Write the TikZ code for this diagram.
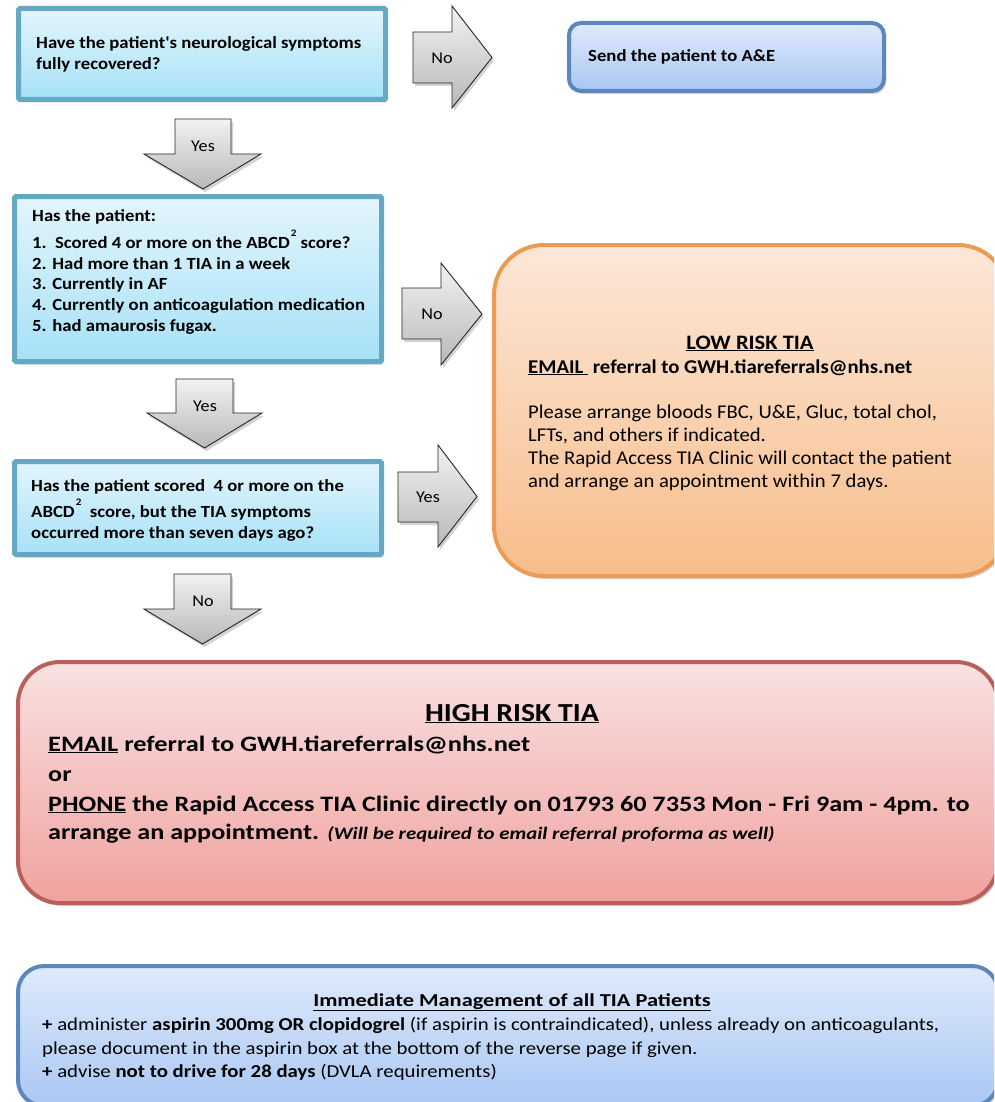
\documentclass[tikz,border=0pt]{standalone}
\usepackage{fontspec}
\setmainfont{Carlito}[Ligatures=TeXOff]
\usetikzlibrary{shadows}
\definecolor{cyanline}{HTML}{64A8C3}
\definecolor{cyantop}{HTML}{E3F5FC}
\definecolor{cyanbot}{HTML}{A6E1F7}
\definecolor{blueline}{HTML}{5B86BE}
\definecolor{bluetop}{HTML}{DFEAFB}
\definecolor{bluebot}{HTML}{A9C7F3}
\definecolor{orline}{HTML}{EC9B52}
\definecolor{ortop}{HTML}{FCE7D8}
\definecolor{orbot}{HTML}{F7BD8A}
\definecolor{redline}{HTML}{B9605B}
\definecolor{redtop}{HTML}{F9E1E1}
\definecolor{redbot}{HTML}{F0A29F}
\definecolor{arrtop}{HTML}{F2F2F2}
\definecolor{arrbot}{HTML}{B8B8B8}
\tikzset{
  shad/.style={drop shadow={opacity=0.35,shadow xshift=2pt,shadow yshift=-3pt}},
  qbox/.style={shape=rectangle,draw=cyanline,line width=5pt,top color=cyantop,bottom color=cyanbot,rounded corners=1.5pt,inner sep=0pt,shad},
  bbox/.style={shape=rectangle,draw=blueline,line width=4pt,top color=bluetop,bottom color=bluebot,inner sep=0pt,shad},
  obox/.style={shape=rectangle,draw=orline,line width=4pt,top color=ortop,bottom color=orbot,rounded corners=50pt,inner sep=0pt,shad},
  rbox/.style={shape=rectangle,draw=redline,line width=4pt,top color=redtop,bottom color=redbot,rounded corners=42pt,inner sep=0pt,shad},
  blk/.style={draw=black!85,line width=0.9pt,top color=arrtop,bottom color=arrbot,line join=miter},
  tl/.style={anchor=base west,inner sep=0pt},
  tc/.style={anchor=base,inner sep=0pt},
  lab/.style={anchor=center,inner sep=0pt,font=\fontsize{16.5}{19}\selectfont},
}
\newcommand{\sx}[2]{\scalebox{#1}[1]{#2}}
\newcommand{\sqtwo}{\hspace{1pt}\raisebox{1.45ex}{\fontsize{10}{10}\selectfont 2}}
\begin{document}
\begin{tikzpicture}[x=1pt,y=-1pt]
\useasboundingbox (0,0) rectangle (994,1102);
\clip (0,0) rectangle (994,1102);
% ---------- boxes ----------
\node[qbox,minimum width=367pt,minimum height=91pt] (q1) at (202,54) {};
\node[bbox,rounded corners=12pt,minimum width=315pt,minimum height=68pt] (ae) at (726.5,57) {};
\node[qbox,minimum width=367pt,minimum height=165pt] (q2) at (198,279) {};
\node[qbox,minimum width=367pt,minimum height=93pt] (q3) at (198,508) {};
\node[obox,minimum width=514pt,minimum height=331pt] (low) at (751,410.5) {};
\node[rbox,minimum width=980pt,minimum height=241pt] (high) at (508,782.5) {};
\node[bbox,rounded corners=26pt,minimum width=980pt,minimum height=140pt] (mgmt) at (508,1036) {};
% ---------- block arrows ----------
\path[blk,shad] (413,32) -- (452,32) -- (452,6) -- (492,57.5) -- (452,108) -- (452,83) -- (413,83) -- cycle;
\node[lab] (a1) at (442,58) {\sx{1.1}{No}};
\path[blk,shad] (175,119) -- (231,119) -- (231,154) -- (261,154) -- (203,189) -- (144,154) -- (175,154) -- cycle;
\node[lab] (a2) at (203,146) {\sx{1.1}{Yes}};
\path[blk,shad] (402,288) -- (441,288) -- (441,263) -- (482,314) -- (441,365) -- (441,339) -- (402,339) -- cycle;
\node[lab] (a3) at (432,314) {\sx{1.1}{No}};
\path[blk,shad] (176,379) -- (233,379) -- (233,413) -- (262,413) -- (204.5,448) -- (147,413) -- (176,413) -- cycle;
\node[lab] (a4) at (205,406) {\sx{1.1}{Yes}};
\path[blk,shad] (398,472) -- (438,472) -- (438,445) -- (477,496.5) -- (438,547) -- (438,522) -- (398,522) -- cycle;
\node[lab] (a5) at (428,497) {\sx{1.1}{Yes}};
\path[blk,shad] (174,574) -- (231,574) -- (231,609) -- (261,609) -- (202.5,644) -- (144,609) -- (174,609) -- cycle;
\node[lab] (a6) at (203,601) {\sx{1.1}{No}};
% ---------- questions ----------
\begin{scope}[every node/.append style={font=\fontsize{17}{20}\selectfont\bfseries}]
\node[tl] (q1a) at (36,49) {\sx{1.1}{Have the patient's neurological symptoms}};
\node[tl] (q1b) at (36,70) {\sx{1.1}{fully recovered?}};
\node[tl] (aet) at (588,62) {\sx{1.1}{Send the patient to A\&E}};
\node[tl] (q2a) at (32,221) {\sx{1.1}{Has the patient:}};
\node[tl] (q2b) at (32,248) {\sx{1.1}{1.\ \ Scored 4 or more on the ABCD\sqtwo\ score?}};
\node[tl] (q2c) at (32,269) {\sx{1.1}{2. Had more than 1 TIA in a week}};
\node[tl] (q2d) at (32,289) {\sx{1.1}{3. Currently in AF}};
\node[tl] (q2e) at (32,310) {\sx{1.1}{4. Currently on anticoagulation medication}};
\node[tl] (q2f) at (32,331) {\sx{1.1}{5. had amaurosis fugax.}};
\node[tl] (q3a) at (31,491) {\sx{1.1}{Has the patient scored\ \ 4 or more on the}};
\node[tl] (q3b) at (31,517) {\sx{1.1}{ABCD\sqtwo\ \ score, but the TIA symptoms}};
\node[tl] (q3c) at (31,538) {\sx{1.1}{occurred more than seven days ago?}};
\end{scope}
% ---------- low risk ----------
\begin{scope}[every node/.append style={font=\fontsize{19.5}{23}\selectfont}]
\node[tc,font=\fontsize{20.5}{23}\selectfont\bfseries] (lt) at (750,349) {\sx{1.1}{\underline{LOW RISK TIA}}};
\node[tl,font=\fontsize{19.5}{23}\selectfont\bfseries] (l1) at (528,373) {\sx{1.066}{\underline{EMAIL\ }\ referral to GWH.tiareferrals@nhs.net}};
\node[tl] (l2) at (528,418) {\sx{1.06}{Please arrange bloods FBC, U\&E, Gluc, total chol,}};
\node[tl] (l3) at (528,441) {\sx{1.06}{LFTs, and others if indicated.}};
\node[tl] (l4) at (528,464) {\sx{1.06}{The Rapid Access TIA Clinic will contact the patient}};
\node[tl] (l5) at (528,487) {\sx{1.06}{and arrange an appointment within 7 days.}};
\end{scope}
% ---------- high risk ----------
\begin{scope}[every node/.append style={font=\fontsize{22}{29}\selectfont\bfseries}]
\node[tc,font=\fontsize{26}{30}\selectfont\bfseries] (ht) at (512,721) {\sx{1.146}{\underline{HIGH RISK TIA}}};
\node[tl] (h1) at (48,751) {\sx{1.2}{\underline{EMAIL} referral to GWH.tiareferrals@nhs.net}};
\node[tl] (h2) at (48,781) {\sx{1.19}{or}};
\node[tl] (h3) at (48,811) {\sx{1.19}{\underline{PHONE} the Rapid Access TIA Clinic directly on 01793 60 7353 Mon - Fri 9am - 4pm. to}};
\node[tl] (h4) at (48,839) {\sx{1.19}{arrange an appointment.\hspace{7pt}{\fontsize{17.5}{20}\selectfont\itshape(Will be required to email referral proforma as well)}}};
\end{scope}
% ---------- management ----------
\begin{scope}[every node/.append style={font=\fontsize{18.2}{23}\selectfont}]
\node[tc,font=\fontsize{18.2}{23}\selectfont\bfseries] (mt) at (512,1006) {\sx{1.23}{\underline{Immediate Management of all TIA Patients}}};
\node[tl] (m1) at (42,1030) {\sx{1.143}{\textbf{+} administer \textbf{aspirin 300mg OR clopidogrel} (if aspirin is contraindicated), unless already on anticoagulants,}};
\node[tl] (m2) at (42,1054) {\sx{1.143}{please document in the aspirin box at the bottom of the reverse page if given.}};
\node[tl] (m3) at (42,1077) {\sx{1.143}{\textbf{+} advise \textbf{not to drive for 28 days} (DVLA requirements)}};
\end{scope}
\end{tikzpicture}
\end{document}
